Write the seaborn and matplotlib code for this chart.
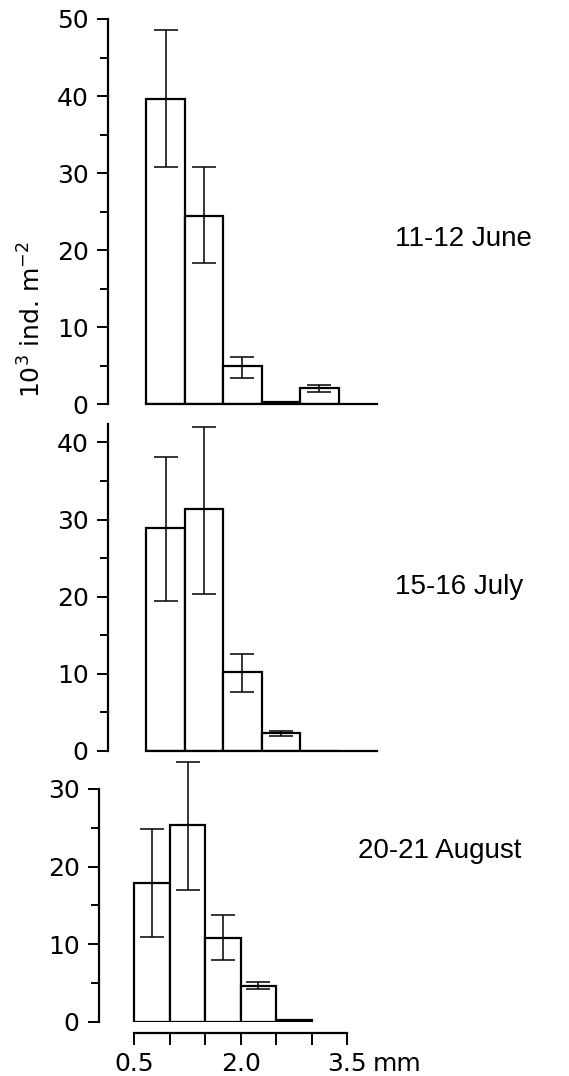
import numpy as np
import pandas as pd
import matplotlib
matplotlib.use("Agg")
import matplotlib.pyplot as plt
import seaborn as sns

# ---- data ----
bin_centers = [0.75, 1.25, 1.75, 2.25, 2.75]
dates = ["11-12 June", "15-16 July", "20-21 August"]

june_mean = [39.6, 24.5, 4.97, 0.3, 2.07]
june_low = [30.8, 18.3, 3.45, np.nan, 1.55]
june_high = [48.6, 30.8, 6.1, np.nan, 2.5]

july_mean = [28.9, 31.4, 10.2, 2.25, 0.0]
july_low = [19.4, 20.3, 7.65, 1.9, np.nan]
july_high = [38.1, 42.0, 12.5, 2.55, np.nan]

aug_mean = [17.9, 25.4, 10.75, 4.64, 0.2]
aug_low = [10.9, 17.0, 7.9, 4.25, np.nan]
aug_high = [24.8, 33.5, 13.7, 5.08, np.nan]

x_ticks = [0.5, 1.0, 1.5, 2.0, 2.5, 3.0, 3.5]
x_ticklabels = ["0.5", "", "", "2.0", "", "", "3.5"]

sns.set_style("ticks")
plt.rcParams["font.family"] = ["DejaVu Sans"]
plt.rcParams.update({
    "text.color": "black",
    "axes.labelcolor": "black",
    "axes.edgecolor": "black",
    "xtick.color": "black",
    "ytick.color": "black",
})

W, H = 569, 1076
fig = plt.figure(figsize=(W / 100, H / 100), dpi=100)


def rect(left, right, top, bottom):
    return [left / W, (H - bottom) / H, (right - left) / W, (bottom - top) / H]


panels = [
    dict(mean=june_mean, low=june_low, high=june_high, ymax=50, yt=[0, 10, 20, 30, 40, 50],
         rect=rect(108, 377, 19, 404.3), label=dates[0], lab_xy=(395, 239)),
    dict(mean=july_mean, low=july_low, high=july_high, ymax=42.4, yt=[0, 10, 20, 30, 40],
         rect=rect(108, 377, 424, 750.7), label=dates[1], lab_xy=(395, 587)),
    dict(mean=aug_mean, low=aug_low, high=aug_high, ymax=30, yt=[0, 10, 20, 30],
         rect=rect(99, 347, 789, 1021.7), label=dates[2], lab_xy=(358, 851)),
]

for i, p in enumerate(panels):
    ax = fig.add_axes(p["rect"])
    df = pd.DataFrame({"size": bin_centers, "density": p["mean"]})
    sns.barplot(data=df, x="size", y="density", native_scale=True, width=1,
                color="white", saturation=1, edgecolor="black", linewidth=1.6,
                errorbar=None, ax=ax)
    mean = np.array(p["mean"])
    lo = np.array(p["low"])
    hi = np.array(p["high"])
    ok = ~np.isnan(lo)
    xs = np.array(bin_centers)[ok]
    ax.errorbar(xs, mean[ok], yerr=[mean[ok] - lo[ok], hi[ok] - mean[ok]],
                fmt="none", ecolor="black", elinewidth=1.1, capsize=8.5,
                capthick=1.1, clip_on=False, zorder=5)
    ax.set_xlim(0, 3.5)
    ax.set_ylim(0, p["ymax"])
    ax.set_xlabel("")
    ax.set_ylabel("")
    ax.set_yticks(p["yt"])
    ax.set_yticks(np.arange(5, p["ymax"], 10), minor=True)
    ax.tick_params(axis="y", which="major", length=8, width=1.4, pad=6, labelsize=18)
    ax.tick_params(axis="y", which="minor", length=6, width=1.4)
    for s in ["top", "right"]:
        ax.spines[s].set_visible(False)
    ax.spines["left"].set_linewidth(1.6)
    ax.spines["left"].set_bounds(0, p["ymax"])
    ax.spines["bottom"].set_linewidth(1.6)
    if i < 2:
        ax.spines["bottom"].set_bounds(0.5, 3.5)
        ax.set_xticks([])
    else:
        ax.spines["bottom"].set_position(("outward", 8))
        ax.spines["bottom"].set_bounds(0.5, 3.5)
        ax.set_xticks(x_ticks)
        ax.set_xticklabels(x_ticklabels)
        ax.tick_params(axis="x", length=8.5, width=1.4, pad=5, labelsize=18)
    fig.text(p["lab_xy"][0] / W, 1 - p["lab_xy"][1] / H, p["label"],
             ha="left", va="center", fontsize=20, family="Liberation Sans")

fig.text(397 / W, 1 - 1064 / H, "mm", ha="center", va="center", fontsize=18)
fig.text(32 / W, 1 - 319 / H, r"10$^{3}$ ind. m$^{-2}$", rotation=90,
         ha="center", va="center", fontsize=18)

fig.savefig("out.png", dpi=100, facecolor="white")
